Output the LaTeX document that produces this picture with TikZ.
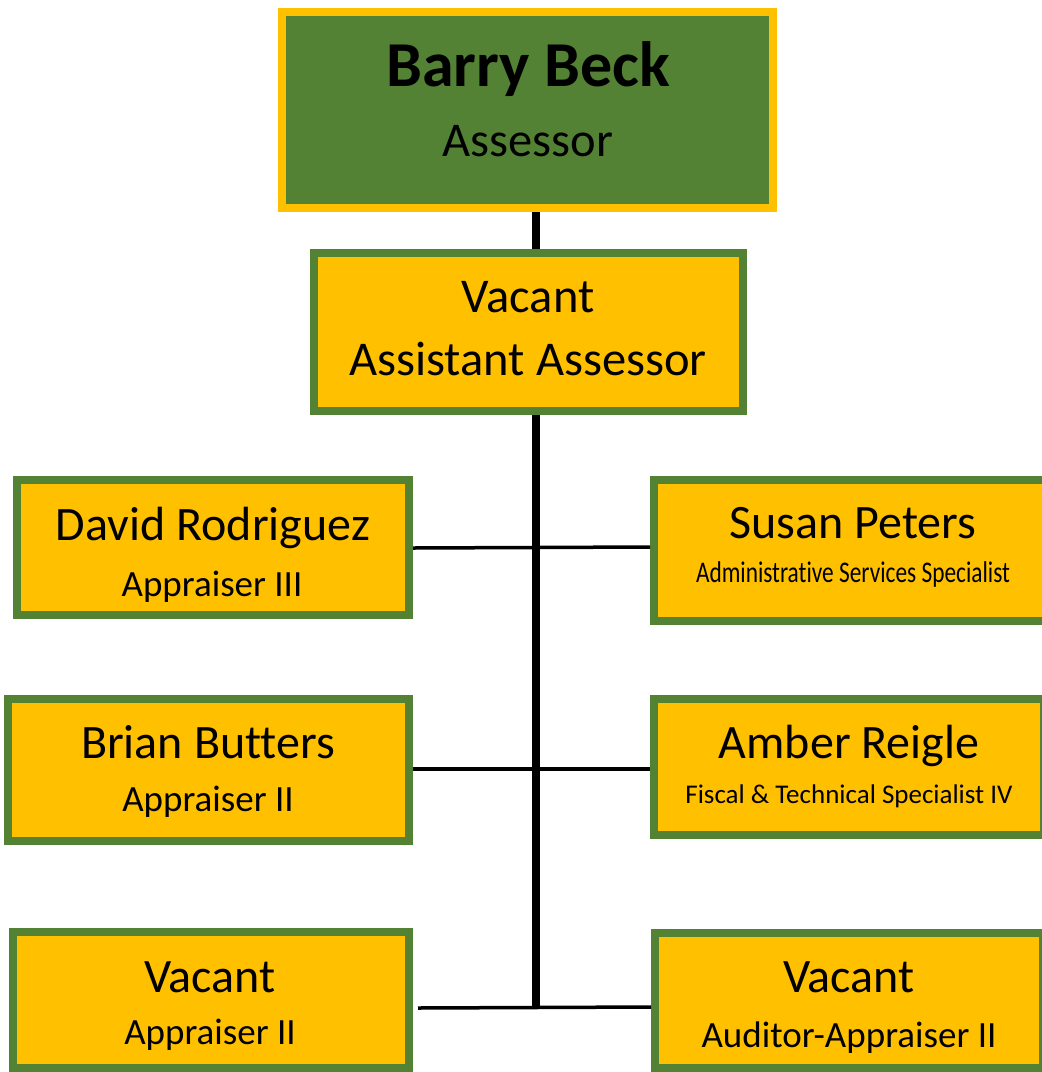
\documentclass[tikz,border=0pt]{standalone}
\usepackage{fontspec}
\setmainfont{Carlito}[Ligatures=NoCommon]
\usepackage{graphicx}
\definecolor{ogreen}{HTML}{548235}
\definecolor{oyellow}{HTML}{FFC000}
\tikzset{
  boss/.style={draw=oyellow, fill=ogreen, line width=8pt, inner sep=0pt},
  staff/.style={draw=ogreen, fill=oyellow, line width=8pt, inner sep=0pt},
  txt/.style={anchor=base, inner sep=0pt, text=black},
  trunk/.style={line width=7.5pt, black},
  branch/.style={line width=3.5pt, black},
}
\newcommand{\fsz}[1]{\fontsize{#1}{#1}\selectfont}
\begin{document}
\begin{tikzpicture}[x=1pt,y=-1pt]
\useasboundingbox (0,0) rectangle (1042,1072);
\clip (0,0) rectangle (1042,1072);
% boxes
\node[boss, minimum width=491pt, minimum height=196pt] (top) at (527.5,110) {};
\node[staff, minimum width=429pt, minimum height=158pt] (asst) at (528.5,332) {};
\node[staff, minimum width=392pt, minimum height=135pt] (david) at (213,547.5) {};
\node[staff, minimum width=401pt, minimum height=142pt] (brian) at (208.5,770) {};
\node[staff, minimum width=396pt, minimum height=136pt] (lvac) at (211,1000) {};
\node[staff, minimum width=398pt, minimum height=141pt] (susan) at (853,550.5) {};
\node[staff, minimum width=390pt, minimum height=136pt] (amber) at (849,767) {};
\node[staff, minimum width=388pt, minimum height=135pt] (rvac) at (849,1000.5) {};
% texts
\node[txt] (t1a) at (528,86) {\fsz{64}\bfseries Barry Beck};
\node[txt] (t1b) at (528,156) {\fsz{48.5}Assessor};
\node[txt] (t2a) at (528,312) {\fsz{48.5}Vacant};
\node[txt] (t2b) at (528,375) {\fsz{48.5}Assistant Assessor};
\node[txt] (t3a) at (213,540) {\fsz{48}David Rodriguez};
\node[txt] (t3b) at (212,596) {\fsz{37}Appraiser III};
\node[txt] (t4a) at (208,758) {\fsz{48}Brian Butters};
\node[txt] (t4b) at (208,811) {\fsz{37}Appraiser II};
\node[txt] (t5a) at (210,992) {\fsz{48}Vacant};
\node[txt] (t5b) at (210,1044) {\fsz{37}Appraiser II};
\node[txt] (t6a) at (853,538) {\fsz{48}Susan Peters};
\node[txt] (t6b) at (853,582) {\resizebox{314pt}{\height}{\fsz{30}Administrative Services Specialist}};
\node[txt] (t7a) at (849,758) {\fsz{48}Amber Reigle};
\node[txt] (t7b) at (849,803) {\fsz{27}Fiscal \& Technical Specialist IV};
\node[txt] (t8a) at (849,992) {\fsz{48}Vacant};
\node[txt] (t8b) at (849,1047) {\fsz{37}Auditor-Appraiser II};
% connectors
\coordinate (tx) at (536,0);
\coordinate (tbot) at (536,1007);
\coordinate (bl) at (418,1008);
\draw[trunk] (top.south -| tx) -- (asst.north -| tx);
\draw[trunk] (asst.south -| tx) -- ([yshift=-1.75pt]tbot);
\draw[branch] (david.east |- 0,548) -- (susan.west |- 0,547);
\draw[branch] (brian.east |- 0,769) -- (amber.west |- 0,769);
\draw[branch] (bl) -- (rvac.west |- tbot);
\end{tikzpicture}
\end{document}
